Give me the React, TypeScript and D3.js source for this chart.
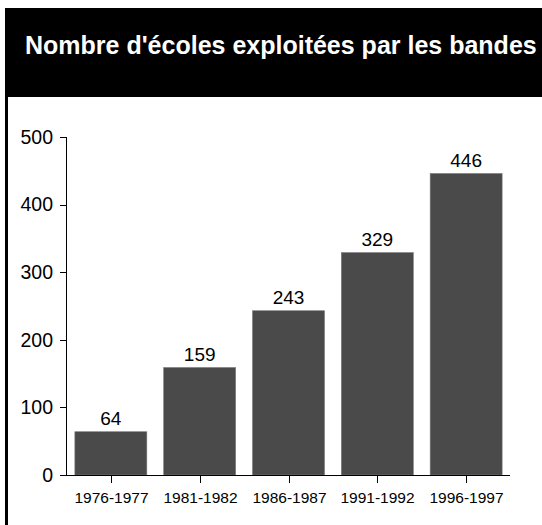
import React from "react";
import * as d3 from "d3";

const title = "Nombre d'écoles exploitées par les bandes";
const periods = ["1976-1977", "1981-1982", "1986-1987", "1991-1992", "1996-1997"];
const schools = [64, 159, 243, 329, 446];
const yTicks = [0, 100, 200, 300, 400, 500];

export default function App() {
  const W = 542, H = 525;
  const x = d3.scaleBand<string>().domain(periods).range([66, 511]).paddingInner(0.19).paddingOuter(0.1);
  const y = d3.scaleLinear().domain([0, 500]).range([475, 137]);
  const font = "'Liberation Sans', Arial, sans-serif";
  return (
    <svg width={W} height={H} style={{ position: "absolute", left: 0, top: 0, display: "block" }} fontFamily={font}>
      <rect x={0} y={0} width={W} height={H} fill="#fff" />
      <rect x={5} y={8} width={W - 5} height={89} fill="#000" />
      <rect x={5} y={8} width={3} height={H - 8} fill="#000" />
      <text x={25} y={54} fill="#fff" fontWeight="bold" fontSize={25}>{title}</text>
      {/* y axis */}
      <line x1={66.5} x2={66.5} y1={y(500)} y2={y(0)} stroke="#000" strokeWidth={1} />
      {yTicks.map((t) => (
        <g key={t}>
          <line x1={60} x2={66.5} y1={Math.round(y(t)) + 0.5} y2={Math.round(y(t)) + 0.5} stroke="#000" />
          <text x={53} y={y(t)} dy="0.35em" textAnchor="end" fontSize={19.5} fill="#000">{t}</text>
        </g>
      ))}
      {/* bars */}
      {periods.map((p, i) => (
        <g key={p}>
          <rect x={x(p)!} y={y(schools[i])} width={x.bandwidth()} height={y(0) - y(schools[i])} fill="#4a4a4a" stroke="#777" strokeWidth={0.6} />
          <text x={x(p)! + x.bandwidth() / 2} y={y(schools[i]) - 7} textAnchor="middle" fontSize={19} fill="#000">{schools[i]}</text>
        </g>
      ))}
      {/* x axis */}
      <line x1={60} x2={510} y1={475.5} y2={475.5} stroke="#000" />
      {periods.map((p) => {
        const cx = Math.round(x(p)! + x.bandwidth() / 2) + 0.5;
        return (
          <g key={p}>
            <line x1={cx} x2={cx} y1={475.5} y2={483} stroke="#000" />
            <text x={cx} y={503} textAnchor="middle" fontSize={15.5} fill="#000">{p}</text>
          </g>
        );
      })}
    </svg>
  );
}
